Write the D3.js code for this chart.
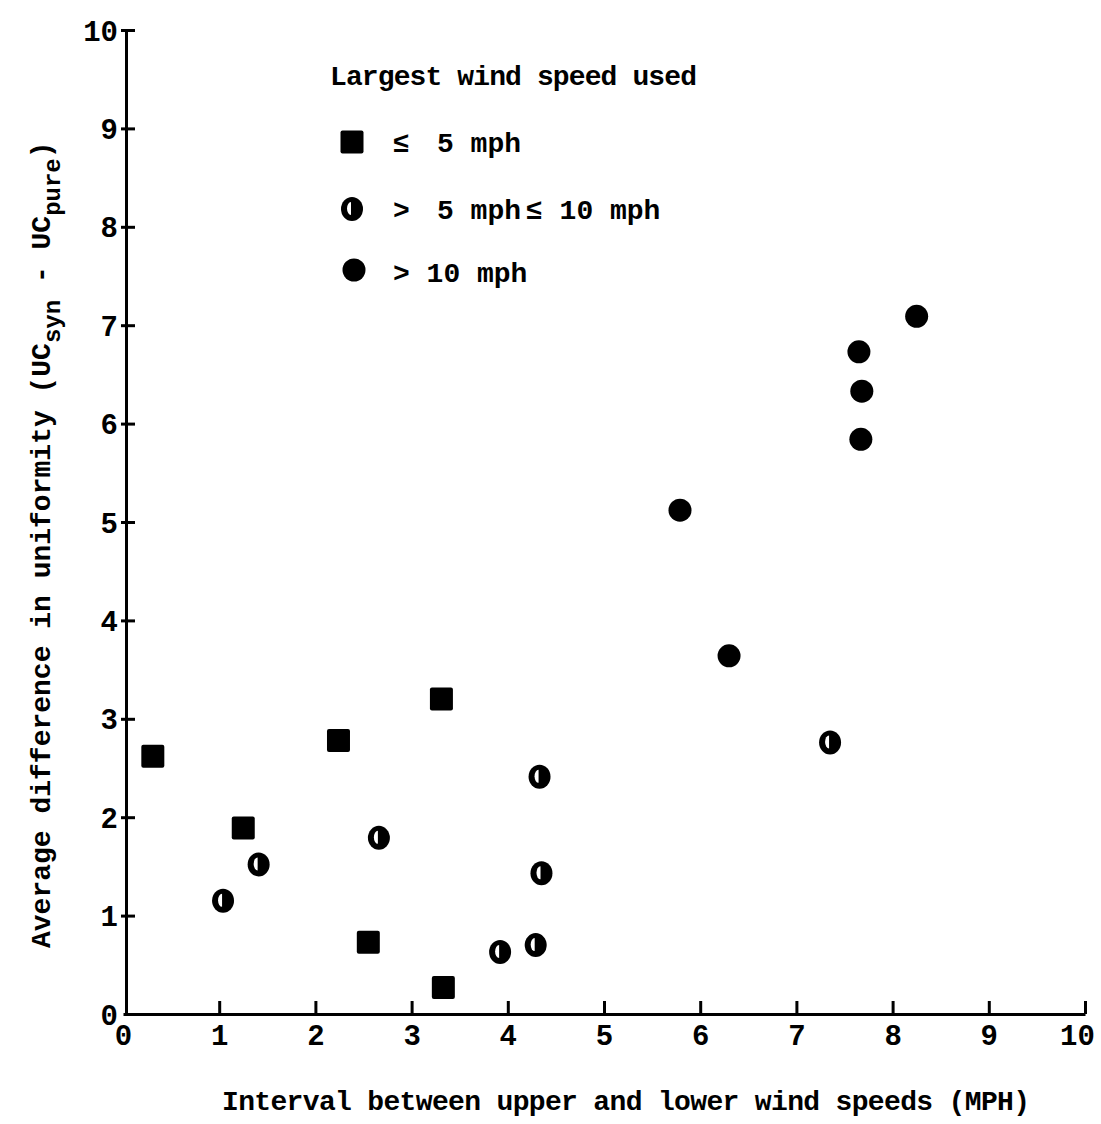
<!DOCTYPE html>
<html>
<head>
<meta charset="utf-8">
<script src="https://cdn.jsdelivr.net/npm/d3@7"></script>
<style>
  html, body { margin: 0; padding: 0; background: #fff; }
  svg text { font-family: "Liberation Mono", "DejaVu Sans Mono", monospace; fill: #000; }
</style>
</head>
<body>
<svg id="chart" width="1101" height="1124"></svg>
<script>
// ---- data ----
const xTicks = [0, 1, 2, 3, 4, 5, 6, 7, 8, 9, 10];
const yTicks = [0, 1, 2, 3, 4, 5, 6, 7, 8, 9, 10];

// Largest wind speed used <= 5 mph (squares)
const lowX = [0.31, 1.25, 2.24, 3.31, 2.55, 3.33];
const lowY = [2.62, 1.89, 2.78, 3.20, 0.73, 0.27];
// > 5 mph <= 10 mph (half-filled circles)
const midX = [1.04, 1.41, 2.66, 4.33, 4.35, 3.92, 4.29, 7.35];
const midY = [1.15, 1.52, 1.79, 2.41, 1.43, 0.63, 0.70, 2.76];
// > 10 mph (filled circles)
const highX = [8.25, 7.65, 7.68, 7.67, 5.79, 6.30];
const highY = [7.09, 6.73, 6.33, 5.84, 5.12, 3.64];

const xTitle = "Interval between upper and lower wind speeds (MPH)";
const legendTitle = "Largest wind speed used";

// ---- layout ----
const svg = d3.select("#chart");
const x = d3.scaleLinear().domain([0, 10]).range([123, 1085]);
const y = d3.scaleLinear().domain([0, 10]).range([1014, 30]);

// axes
const xAxis = svg.append("g").attr("transform", `translate(0,${y(0)})`)
  .call(d3.axisBottom(x).tickValues(xTicks).tickSize(0).tickPadding(16).tickFormat(d3.format("d")));
xAxis.select(".domain").attr("stroke", "#000").attr("stroke-width", 3);
xAxis.selectAll(".tick text").attr("font-size", 29).attr("font-weight", "bold").attr("dy", "0.5em")
  .attr("dx", d => d === 10 ? -8 : 0);
xAxis.selectAll(".tick").filter(d => d > 0).append("line")
  .attr("y1", 0).attr("y2", -13).attr("stroke", "#000").attr("stroke-width", 3);

const yAxis = svg.append("g").attr("transform", `translate(${x(0) + 3},0)`)
  .call(d3.axisLeft(y).tickValues(yTicks).tickSize(0).tickPadding(8).tickFormat(d3.format("d")));
yAxis.select(".domain").attr("stroke", "#000").attr("stroke-width", 3);
yAxis.selectAll(".tick text").attr("font-size", 29).attr("font-weight", "bold").attr("dy", "0.35em");
yAxis.selectAll(".tick").filter(d => d > 0).append("line")
  .attr("x1", -5).attr("x2", 9).attr("stroke", "#000").attr("stroke-width", 3);

// axis titles
svg.append("text")
  .attr("x", 626).attr("y", 1110)
  .attr("text-anchor", "middle")
  .attr("font-size", 28).attr("font-weight", "bold")
  .attr("textLength", 808).attr("lengthAdjust", "spacing")
  .text(xTitle);

const yt = svg.append("text")
  .attr("transform", "translate(50,948) rotate(-90)")
  .attr("font-size", 28).attr("font-weight", "bold");
yt.append("tspan").text("Average difference in uniformity (UC");
yt.append("tspan").attr("font-size", 24).attr("dy", 10).text("syn");
yt.append("tspan").attr("dy", -10).text(" - UC");
yt.append("tspan").attr("font-size", 24).attr("dy", 10).text("pure");
yt.append("tspan").attr("dy", -10).text(")");

// ---- markers ----
const sq = 23;
function squares(g, xs, ys) {
  g.selectAll("rect").data(xs.map((d, i) => [d, ys[i]])).join("rect")
    .attr("x", d => x(d[0]) - sq / 2).attr("y", d => y(d[1]) - sq / 2)
    .attr("width", sq).attr("height", sq).attr("rx", 2).attr("fill", "#000");
}
function fulls(g, xs, ys) {
  g.selectAll("circle").data(xs.map((d, i) => [d, ys[i]])).join("circle")
    .attr("cx", d => x(d[0])).attr("cy", d => y(d[1])).attr("r", 11.5).attr("fill", "#000");
}
function halves(g, xs, ys) {
  const m = g.selectAll("g").data(xs.map((d, i) => [d, ys[i]])).join("g")
    .attr("transform", d => `translate(${x(d[0])},${y(d[1])})`);
  m.append("ellipse").attr("rx", 11).attr("ry", 12).attr("fill", "#000");
  m.append("path").attr("d", "M-1,-7 L-1,6 A4,6.5 0 0 1 -1,-7 Z").attr("fill", "#fff");
}
squares(svg.append("g"), lowX, lowY);
halves(svg.append("g"), midX, midY);
fulls(svg.append("g"), highX, highY);

// ---- legend ----
const lg = svg.append("g");
lg.append("text").attr("x", 330).attr("y", 85).attr("font-size", 28).attr("font-weight", "bold")
  .attr("textLength", 367).attr("lengthAdjust", "spacing").text(legendTitle);

squares(lg.append("g"), [x.invert(352)], [y.invert(142)]);
halves(lg.append("g"), [x.invert(352)], [y.invert(209)]);
fulls(lg.append("g"), [x.invert(354)], [y.invert(270)]);

const legendText = [
  { y: 142, parts: [[393, "≤"], [437, "5 mph"]] },
  { y: 209, parts: [[393, ">"], [437, "5 mph"], [526, "≤ 10 mph"]] },
  { y: 272, parts: [[393, "> 10 mph"]] }
];
legendText.forEach(r => r.parts.forEach(p => {
  lg.append("text").attr("x", p[0]).attr("y", r.y).attr("dy", "0.35em")
    .attr("font-size", 28).attr("font-weight", "bold").text(p[1]);
}));
</script>
</body>
</html>
